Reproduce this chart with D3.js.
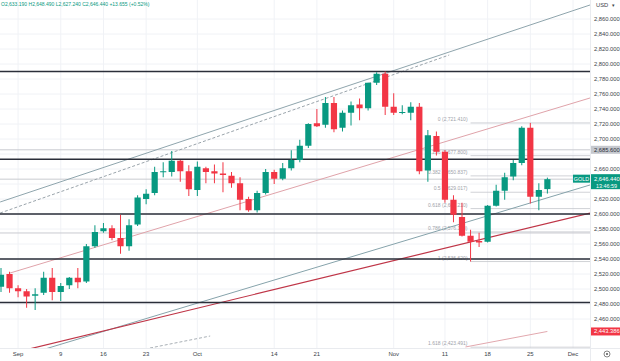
<!DOCTYPE html>
<html><head><meta charset="utf-8">
<script src="https://cdn.jsdelivr.net/npm/d3@7"></script>
<style>body{margin:0;background:#fff}svg{display:block;font-family:"Liberation Sans",Arial,sans-serif}</style>
</head><body><svg id="c" width="620" height="361"></svg>
<script>
const dates = ["Aug 29","Aug 30","Sep 2","Sep 3","Sep 4","Sep 5","Sep 6","Sep 9","Sep 10","Sep 11","Sep 12","Sep 13",
"Sep 16","Sep 17","Sep 18","Sep 19","Sep 20","Sep 23","Sep 24","Sep 25","Sep 26","Sep 27","Sep 30",
"Oct 1","Oct 2","Oct 3","Oct 4","Oct 7","Oct 8","Oct 9","Oct 10","Oct 11","Oct 14","Oct 15","Oct 16","Oct 17","Oct 18",
"Oct 21","Oct 22","Oct 23","Oct 24","Oct 25","Oct 28","Oct 29","Oct 30","Oct 31","Nov 1","Nov 4","Nov 5","Nov 6","Nov 7","Nov 8",
"Nov 11","Nov 12","Nov 13","Nov 14","Nov 15","Nov 18","Nov 19","Nov 20","Nov 21","Nov 22","Nov 25","Nov 26","Nov 27"];
const open  = [2503,2520,2501,2497,2491,2495,2515,2496,2505,2515,2510,2557,2577,2581,2568,2557,2586,2620,2628,2656,2656,2671,2657,
2632,2661,2657,2654,2651,2641,2620,2605,2628,2656,2647,2661,2672,2691,2721,2719,2748,2715,2735,2746,2741,2775,2787,2743,2736,2735,2743,2658,2704,
2683,2619,2596,2571,2564,2563,2611,2631,2650,2668,2715,2623,2633.19];
const high  = [2528,2523,2505,2500,2501,2523,2528,2508,2516,2528,2560,2585,2588,2585,2599,2593,2625,2633,2663,2669,2684,2672,2665,
2670,2663,2666,2669,2656,2649,2623,2631,2660,2659,2668,2685,2699,2721,2740,2756,2756,2738,2750,2754,2775,2789,2790,2761,2745,2749,2748,2712,2710,
2685,2625,2615,2579,2575,2612,2639,2655,2672,2717,2721.41,2641,2648.49];
const low   = [2496,2495,2489,2475,2472,2492,2485,2484,2500,2501,2508,2555,2575,2565,2547,2551,2584,2613,2625,2649,2650,2643,2624,
2624,2641,2641,2629,2635,2605,2603,2602,2626,2640,2645,2658,2669,2688,2716,2715,2709,2710,2718,2725,2738,2772,2732,2732,2733,2725,2653,2643,2678,
2615,2589,2570,2536.62,2556,2562,2610,2619,2645,2665,2614,2605,2627.24];
const close = [2519,2501,2497,2490,2493,2515,2496,2504,2515,2509,2557,2576,2581,2568,2557,2585,2622,2627,2656,2657,2671,2657,2633,
2663,2656,2654,2652,2641,2619,2605,2628,2656,2647,2661,2672,2691,2720,2717,2748,2713,2735,2745,2741,2775,2787,2743,2735,2736,2743,2657,2705,2683,
2619,2599,2571,2563,2562,2611,2631,2649,2668,2715,2623,2632,2646.44];

const priceTicks = [2460,2480,2500,2520,2540,2560,2580,2600,2620,2660,2700,2720,2740,2760,2780,2800,2820,2840,2860];
const gridTicks  = [2460,2480,2500,2520,2540,2560,2580,2600,2620,2640,2660,2680,2700,2720,2740,2760,2780,2800,2820,2840,2860];
const xTickLabels = ["Sep","9","16","23","Oct","14","21","Nov","11","18","25","Dec"];
const xTickIdx    = [2,7,12,17,23,32,37,46,52,57,62,67];

const keyLevels  = [2790, 2673, 2600, 2540, 2482];   // dark horizontal lines
const thinLevels = [2685.6, 2574.7, 2646.44];        // light horizontal lines

const fibHigh = 2721.41, fibLow = 2536.62, fibStartIdx = 55;
const fibRatios = [0, 0.236, 0.382, 0.5, 0.618, 0.786, 1, 1.618];
const fibLabels = ["0 (2,721.410)","0.236 (2,677.800)","0.382 (2,650.837)","0.5 (2,629.017)","0.618 (2,607.210)","0.786 (2,576.170)","1 (2,536.620)","1.618 (2,423.491)"];

// trend lines: [index, price] pairs
const upperChannel = [[-0.1,2616],[69,2878.7]];
const upperDashed  = [[-0.1,2601.3],[52.5,2812]];
const midPink      = [[1.06,2521.3],[69,2754.7]];
const lowerGray    = [[5.16,2420],[69,2638.7]];
const lowerRed     = [[2.82,2418.7],[69,2601.3]];
const smallDashed  = [[16.3,2418.7],[24.5,2437.3]];
const smallPink    = [[54.4,2422.7],[64,2443.386]];

const W=620,H=361, plotR=590, plotB=348;
const svg=d3.select("#c");
const x=d3.scaleLinear().domain([0,67]).range([1,573]);
const y=d3.scaleLinear().domain([2432,2860]).range([340,19]);

svg.append("defs").append("clipPath").attr("id","pc").append("rect").attr("x",0).attr("y",0).attr("width",plotR).attr("height",plotB);
const g=svg.append("g").attr("clip-path","url(#pc)");

// grid
g.selectAll(".hg").data(gridTicks).join("line").attr("x1",0).attr("x2",plotR)
 .attr("y1",d=>y(d)).attr("y2",d=>y(d)).attr("stroke","#f0f2f6").attr("stroke-width",1);
g.selectAll(".vg").data(xTickIdx).join("line").attr("y1",0).attr("y2",plotB)
 .attr("x1",d=>x(d)).attr("x2",d=>x(d)).attr("stroke","#f0f2f6").attr("stroke-width",1);

// thin levels
g.selectAll(".tl").data(thinLevels).join("line").attr("x1",0).attr("x2",plotR)
 .attr("y1",d=>y(d)).attr("y2",d=>y(d)).attr("stroke","#c9cbd0").attr("stroke-width",1);

// fib
const fibVals=fibRatios.map(r=>fibHigh-r*(fibHigh-fibLow));
g.selectAll(".fl").data(fibVals).join("line").attr("x1",x(fibStartIdx)).attr("x2",plotR)
 .attr("y1",d=>y(d)).attr("y2",d=>y(d)).attr("stroke","#c4c6cb").attr("stroke-width",0.8);
g.selectAll(".ft").data(fibVals).join("text").attr("x",x(fibStartIdx)-3).attr("y",d=>y(d)-2)
 .attr("text-anchor","end").attr("font-size",5).attr("fill","#a0a3aa").text((d,i)=>fibLabels[i]);

// trend lines
const line=d3.line().x(d=>x(d[0])).y(d=>y(d[1]));
function tl(data,color,w,dash){g.append("path").attr("d",line(data)).attr("fill","none").attr("stroke",color).attr("stroke-width",w).attr("stroke-dasharray",dash||null);}
tl(upperChannel,"#8fa5ad",1);
tl(upperDashed,"#9aa4ab",1,"3,2");
tl(midPink,"#e0a3aa",1);
tl(lowerGray,"#86a3ab",1);
tl(lowerRed,"#bf3547",1.2);
tl(smallDashed,"#a9b0b6",1,"3,2");
tl(smallPink,"#e2a8ae",1);

// key levels
g.selectAll(".kl").data(keyLevels).join("line").attr("x1",0).attr("x2",plotR)
 .attr("y1",d=>y(d)).attr("y2",d=>y(d)).attr("stroke","#2a2e39").attr("stroke-width",1.3);

// candles
const up="#089981", dn="#f23645", bw=6.2;
const idx=d3.range(dates.length);
g.selectAll(".wk").data(idx).join("line").attr("x1",i=>x(i)).attr("x2",i=>x(i))
 .attr("y1",i=>y(high[i])).attr("y2",i=>y(low[i])).attr("stroke",i=>close[i]>=open[i]?up:dn).attr("stroke-width",1);
g.selectAll(".bd").data(idx).join("rect").attr("x",i=>x(i)-bw/2).attr("width",bw)
 .attr("y",i=>y(Math.max(open[i],close[i]))).attr("height",i=>Math.max(1,Math.abs(y(open[i])-y(close[i]))))
 .attr("fill",i=>close[i]>=open[i]?up:dn);

// axes
svg.append("line").attr("x1",plotR+0.5).attr("x2",plotR+0.5).attr("y1",0).attr("y2",H).attr("stroke","#e9ebef");
svg.append("line").attr("x1",0).attr("x2",W).attr("y1",plotB+0.5).attr("y2",plotB+0.5).attr("stroke","#e9ebef");
const fmt=d3.format(",.3f");
svg.selectAll(".pt").data(priceTicks).join("text").attr("x",594).attr("y",d=>y(d)+2)
 .attr("font-size",5.8).attr("fill","#3b3f4a").text(d=>fmt(d));
svg.selectAll(".xt").data(xTickIdx).join("text").attr("x",d=>x(d)).attr("y",356)
 .attr("text-anchor","middle").attr("font-size",6).attr("fill","#3b3f4a").text((d,i)=>xTickLabels[i]);
svg.append("circle").attr("cx",607).attr("cy",354).attr("r",3).attr("fill","none").attr("stroke","#555").attr("stroke-width",0.7);
svg.append("circle").attr("cx",607).attr("cy",354).attr("r",1).attr("fill","#555");
svg.append("text").attr("x",596).attr("y",7).attr("font-size",5.8).attr("fill","#3b3f4a").text("USD");
svg.append("text").attr("x",612).attr("y",7).attr("font-size",5).attr("fill","#3b3f4a").text("▾");

// price labels
function box(v,bg,fg,txt,h){const yy=y(v);svg.append("rect").attr("x",591).attr("y",yy-h/2).attr("width",29).attr("height",h).attr("fill",bg);
 svg.append("text").attr("x",594).attr("y",yy+2).attr("font-size",5.8).attr("fill",fg).text(txt);}
box(2685.6,"#c5c8ce","#2a2e39",fmt(2685.6),8);
box(2443.386,"#f23645","#fff",fmt(2443.386),8);
const cy=y(close[close.length-1]);
svg.append("rect").attr("x",591).attr("y",cy-5).attr("width",29).attr("height",15).attr("fill",up);
svg.append("text").attr("x",594).attr("y",cy+2).attr("font-size",5.8).attr("fill","#fff").text(fmt(close[close.length-1]));
svg.append("text").attr("x",596).attr("y",cy+8.5).attr("font-size",5.4).attr("fill","#fff").text("13:46:59");
svg.append("rect").attr("x",573).attr("y",cy-4.5).attr("width",17).attr("height",8).attr("fill",up);
svg.append("text").attr("x",581.5).attr("y",cy+1.8).attr("text-anchor","middle").attr("font-size",5.4).attr("fill","#fff").text("GOLD");

// header
const n=close.length-1, chg=13.655;
svg.append("text").attr("x",1).attr("y",6).attr("font-size",5).attr("fill","#089981")
 .text(`O${fmt(open[n])} H${fmt(high[n])} L${fmt(low[n])} C${fmt(close[n])} +${chg.toFixed(3)} (+0.52%)`);
</script></body></html>
